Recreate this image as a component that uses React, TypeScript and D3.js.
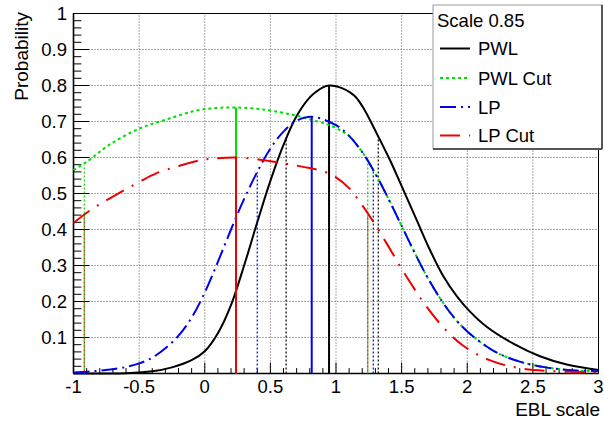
import React from "react";
import * as d3 from "d3";

// ---- data ----
const pwlX = [-1.0, -0.8, -0.6, -0.4, -0.25, -0.1, 0.0, 0.1, 0.2, 0.3, 0.4, 0.5, 0.6, 0.7, 0.8, 0.85, 0.9, 0.947, 1.0, 1.05, 1.107, 1.15, 1.208, 1.31, 1.411, 1.513, 1.615, 1.716, 1.818, 1.92, 2.021, 2.148, 2.351, 2.554, 2.758, 3.0];
const pwlY = [0.0, 0.0003, 0.001, 0.006, 0.017, 0.037, 0.062, 0.112, 0.19, 0.30, 0.42, 0.535, 0.635, 0.715, 0.767, 0.783, 0.795, 0.80, 0.798, 0.792, 0.781, 0.768, 0.738, 0.667, 0.593, 0.51, 0.426, 0.343, 0.27, 0.215, 0.172, 0.13, 0.083, 0.048, 0.025, 0.01];

const pwlCutX = [-1.0, -0.9, -0.72, -0.5, -0.29, -0.04, 0.22, 0.47, 0.675, 0.83, 0.95, 1.05, 1.1, 1.2, 1.3, 1.4, 1.5, 1.6, 1.7, 1.8, 1.9, 2.0, 2.2, 2.4, 2.6, 2.8, 3.0];
const pwlCutY = [0.565, 0.588, 0.637, 0.68, 0.706, 0.732, 0.739, 0.732, 0.718, 0.703, 0.69, 0.672, 0.66, 0.615, 0.555, 0.485, 0.41, 0.335, 0.265, 0.205, 0.155, 0.117, 0.063, 0.033, 0.017, 0.009, 0.006];

const lpX = [-1.0, -0.9, -0.8, -0.7, -0.6, -0.5, -0.4, -0.3, -0.2, -0.1, 0.0, 0.1, 0.2, 0.3, 0.4, 0.5, 0.6, 0.7, 0.815, 1.0, 1.1, 1.2, 1.3, 1.4, 1.5, 1.6, 1.7, 1.8, 1.9, 2.0, 2.2, 2.4, 2.6, 2.8, 3.0];
const lpY = [0.003, 0.005, 0.008, 0.012, 0.018, 0.028, 0.044, 0.07, 0.105, 0.155, 0.225, 0.31, 0.40, 0.485, 0.56, 0.625, 0.672, 0.702, 0.713, 0.69, 0.66, 0.615, 0.555, 0.485, 0.41, 0.335, 0.265, 0.205, 0.155, 0.117, 0.063, 0.033, 0.017, 0.009, 0.006];

const lpCutX = [-1.0, -0.87, -0.72, -0.5, -0.37, -0.2, -0.04, 0.065, 0.24, 0.42, 0.6, 0.75, 0.9, 1.0, 1.1, 1.183, 1.26, 1.335, 1.437, 1.513, 1.615, 1.665, 1.818, 1.97, 2.17, 2.38, 2.63, 3.0];
const lpCutY = [0.418, 0.454, 0.487, 0.532, 0.556, 0.576, 0.592, 0.597, 0.6, 0.594, 0.584, 0.574, 0.562, 0.545, 0.515, 0.476, 0.435, 0.392, 0.33, 0.283, 0.225, 0.198, 0.128, 0.077, 0.037, 0.016, 0.007, 0.003];

// peak markers (solid verticals)
const peakX = [0.947, 0.238, 0.815, 0.238];
const peakY = [0.80, 0.739, 0.713, 0.60];
// interval markers (dotted verticals): left & right per series
const loX = [0.62, -0.918, 0.40, -0.918];
const loY = [0.652, 0.58, 0.56, 0.44];
const hiX = [1.322, 1.242, 1.284, 1.242];
const hiY = [0.658, 0.585, 0.565, 0.44];

const seriesNames = ["PWL", "PWL Cut", "LP", "LP Cut"];
const legendHeader = "Scale 0.85";
const xTickVals = [-1, -0.5, 0, 0.5, 1, 1.5, 2, 2.5, 3];
const xTickLabels = ["-1", "-0.5", "0", "0.5", "1", "1.5", "2", "2.5", "3"];
const yTickVals = [0.1, 0.2, 0.3, 0.4, 0.5, 0.6, 0.7, 0.8, 0.9, 1];
const yTickLabels = ["0.1", "0.2", "0.3", "0.4", "0.5", "0.6", "0.7", "0.8", "0.9", "1"];

const colors = ["#000000", "#00dd00", "#0000ee", "#ee0000"];
const dashes = ["none", "3,3", "16,5,2,5", "20,9,2,9"];

const FONT = "'Liberation Sans', Arial, Helvetica, sans-serif";

export default function App() {
  const W = 604, H = 421;
  const x = d3.scaleLinear().domain([-1, 3]).range([73.5, 598.5]);
  const y = d3.scaleLinear().domain([0, 1]).range([373.5, 13.5]);
  const line = d3
    .line<[number, number]>()
    .x((d) => x(d[0]))
    .y((d) => Math.min(y(0), y(d[1])))
    .curve(d3.curveCatmullRom.alpha(0.5));

  const series = [
    pwlX.map((v, i) => [v, pwlY[i]] as [number, number]),
    pwlCutX.map((v, i) => [v, pwlCutY[i]] as [number, number]),
    lpX.map((v, i) => [v, lpY[i]] as [number, number]),
    lpCutX.map((v, i) => [v, lpCutY[i]] as [number, number]),
  ];

  const xMinor = d3.range(-1, 3.0001, 0.1);
  const yMinor = d3.range(0, 1.0001, 0.02);
  const tickLenY = 15.75, tickLenX = 10.8;

  const legX = 433, legY = 5, legW = 169, legH = 144;
  const entryY = [48.5, 78, 107, 135.5];

  return (
    <svg
      width={W}
      height={H}
      style={{ position: "absolute", left: 0, top: 0, background: "#fff" }}
      fontFamily={FONT}
    >
      <rect x={0} y={0} width={W} height={H} fill="#fff" />
      {/* grid */}
      {xTickVals.slice(1, -1).map((v, i) => (
        <line key={"gx" + i} x1={x(v)} x2={x(v)} y1={y(0)} y2={y(1)} stroke="#555" strokeWidth={1} strokeDasharray="1,2" />
      ))}
      {yTickVals.slice(0, -1).map((v, i) => (
        <line key={"gy" + i} x1={x(-1)} x2={x(3)} y1={y(v)} y2={y(v)} stroke="#555" strokeWidth={1} strokeDasharray="1,2" />
      ))}
      {/* frame */}
      <rect x={x(-1)} y={y(1)} width={x(3) - x(-1)} height={y(0) - y(1)} fill="none" stroke="#000" strokeWidth={1} />
      <line x1={x(-1)} x2={x(3)} y1={y(0)} y2={y(0)} stroke="#000" strokeWidth={1.6} />
      <line x1={x(-1)} x2={x(-1)} y1={y(0)} y2={y(1)} stroke="#000" strokeWidth={1.6} />
      {/* ticks */}
      {xMinor.map((v, i) => {
        const major = i % 5 === 0;
        return <line key={"tx" + i} x1={x(v)} x2={x(v)} y1={y(0)} y2={y(0) - (major ? tickLenX : tickLenX / 2)} stroke="#000" strokeWidth={1} />;
      })}
      {yMinor.map((v, i) => {
        const major = i % 5 === 0;
        return <line key={"ty" + i} x1={x(-1)} x2={x(-1) + (major ? tickLenY : tickLenY / 2)} y1={y(v)} y2={y(v)} stroke="#000" strokeWidth={1} />;
      })}
      {/* tick labels */}
      {xTickVals.map((v, i) => (
        <text key={"lx" + i} x={x(v)} y={393} textAnchor="middle" fontSize={18.5} fill="#000">
          {xTickLabels[i]}
        </text>
      ))}
      {yTickVals.map((v, i) => (
        <text key={"ly" + i} x={67} y={y(v) + 6.5} textAnchor="end" fontSize={18.5} fill="#000">
          {yTickLabels[i]}
        </text>
      ))}
      {/* axis titles */}
      <text x={600} y={416} textAnchor="end" fontSize={19} fill="#000">EBL scale</text>
      <text transform="translate(28,12) rotate(-90)" textAnchor="end" fontSize={19} fill="#000">Probability</text>

      {/* curves and markers */}
      {series.map((s, k) => (
        <g key={"s" + k}>
          <path d={line(s) || ""} fill="none" stroke={colors[k]} strokeWidth={2} strokeDasharray={dashes[k]} />
          <line x1={x(peakX[k])} x2={x(peakX[k])} y1={y(0)} y2={y(peakY[k])} stroke={colors[k]} strokeWidth={2} />
          <line x1={x(loX[k])} x2={x(loX[k])} y1={y(0)} y2={y(loY[k])} stroke={colors[k]} strokeWidth={1.2} strokeDasharray="2,2" strokeDashoffset={k === 3 ? 2 : 0} />
          <line x1={x(hiX[k])} x2={x(hiX[k])} y1={y(0)} y2={y(hiY[k])} stroke={colors[k]} strokeWidth={1.2} strokeDasharray="2,2" strokeDashoffset={k === 3 ? 2 : 0} />
        </g>
      ))}

      {/* legend */}
      <rect x={legX} y={legY} width={legW} height={legH} fill="#fff" stroke="#999" strokeWidth={1} />
      <line x1={legX} x2={legX + legW} y1={legY + legH} y2={legY + legH} stroke="#555" strokeWidth={2} />
      <line x1={legX + legW} x2={legX + legW} y1={legY} y2={legY + legH} stroke="#555" strokeWidth={2} />
      <text x={437} y={27} fontSize={18.5} fill="#000">{legendHeader}</text>
      {seriesNames.map((n, k) => (
        <g key={"lg" + k}>
          <line x1={440} x2={470} y1={entryY[k]} y2={entryY[k]} stroke={colors[k]} strokeWidth={2} strokeDasharray={dashes[k]} />
          <text x={478} y={entryY[k] + 6.5} fontSize={18.5} fill="#000">{n}</text>
        </g>
      ))}
    </svg>
  );
}
